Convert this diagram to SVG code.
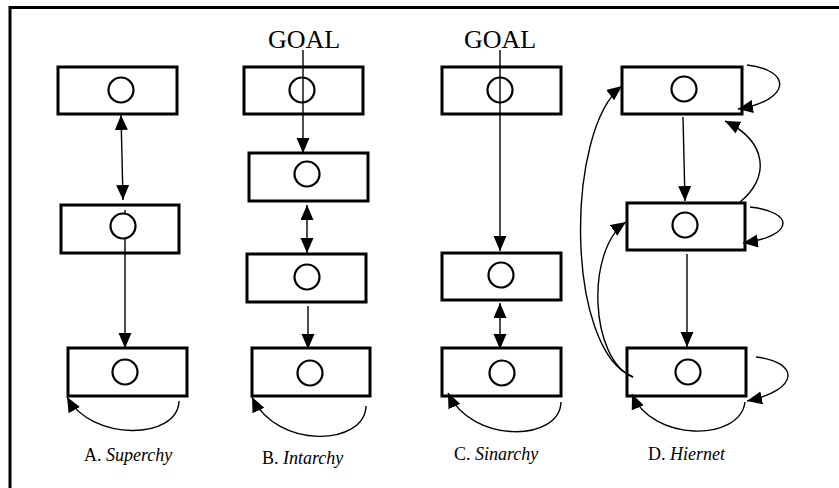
<svg xmlns="http://www.w3.org/2000/svg" width="839" height="488" viewBox="0 0 839 488">
  <style>
    .box { fill: none; stroke: #000; stroke-width: 3; }
    .dot { fill: none; stroke: #000; stroke-width: 2.2; }
    .dot.solid { fill: #fff; }
    .edge { fill: none; stroke: #000; stroke-width: 1.4; }
    .goal { font-family: "Liberation Serif", "Times New Roman", serif; font-size: 26px; fill: #000; }
    .cap { font-family: "Liberation Serif", "Times New Roman", serif; font-size: 18px; fill: #000; }
    .frame { stroke: #000; stroke-width: 3; }
  </style>
  <defs>
    <marker id="head" markerUnits="userSpaceOnUse" markerWidth="16" markerHeight="14" refX="15" refY="6.5" orient="auto-start-reverse">
      <path d="M0,0 L15,6.5 L0,13 z" fill="#000"/>
    </marker>
  </defs>

  <rect width="839" height="488" fill="#fff"/>

  <!-- outer frame (top and left edges) -->
  <line class="frame" x1="9" y1="7.5" x2="839" y2="7.5"/>
  <line class="frame" x1="10" y1="6" x2="10" y2="488"/>

  <!-- connectors -->
  <g id="connectors">
    <!-- A -->
    <line class="edge" x1="121" y1="115" x2="123" y2="200" marker-start="url(#head)" marker-end="url(#head)"/>
    <line class="edge" x1="125" y1="210" x2="125" y2="348" marker-end="url(#head)"/>
    <path class="edge" d="M179,401 C178,440 92,442 67,397" marker-end="url(#head)"/>
    <!-- B -->
    <line class="edge" x1="303" y1="50" x2="303" y2="153" marker-end="url(#head)"/>
    <line class="edge" x1="307" y1="205" x2="307" y2="253" marker-start="url(#head)" marker-end="url(#head)"/>
    <line class="edge" x1="308" y1="306" x2="308" y2="349" marker-end="url(#head)"/>
    <path class="edge" d="M366,406 C365,446 277,450 252,397" marker-end="url(#head)"/>
    <!-- C -->
    <line class="edge" x1="500" y1="50" x2="500" y2="251" marker-end="url(#head)"/>
    <line class="edge" x1="500" y1="303" x2="500" y2="349" marker-start="url(#head)" marker-end="url(#head)"/>
    <path class="edge" d="M561,402 C560,442 472,444 448,393" marker-end="url(#head)"/>
    <!-- D -->
    <path class="edge" d="M747,65 C792,70 792,100 738,109" marker-end="url(#head)"/>
    <line class="edge" x1="683" y1="117" x2="685" y2="201" marker-end="url(#head)"/>
    <path class="edge" d="M740,202 C770,178 768,142 725,121" marker-end="url(#head)"/>
    <path class="edge" d="M750,207 C795,212 795,236 743,243" marker-end="url(#head)"/>
    <line class="edge" x1="687" y1="254" x2="687" y2="347" marker-end="url(#head)"/>
    <path class="edge" d="M756,357 C800,362 800,390 747,401" marker-end="url(#head)"/>
    <path class="edge" d="M745,402 C740,442 652,442 632,394" marker-end="url(#head)"/>
    <path class="edge" d="M633,377 C565,350 565,130 622,86" marker-end="url(#head)"/>
    <path class="edge" d="M633,377 C590,360 585,250 626,222" marker-end="url(#head)"/>
  </g>

  <!-- A. Superchy -->
  <g id="a-top"><rect class="box" x="58" y="67" width="119" height="47"/><circle class="dot" cx="121" cy="90" r="12.5"/></g>
  <g id="a-mid"><rect class="box" x="61" y="205" width="118" height="48"/><circle class="dot solid" cx="123" cy="226" r="12.5"/></g>
  <g id="a-bot"><rect class="box" x="68" y="348" width="119" height="48"/><circle class="dot" cx="125" cy="372" r="12.5"/></g>
  <text class="cap" x="84" y="461">A. <tspan font-style="italic">Superchy</tspan></text>

  <!-- B. Intarchy -->
  <text class="goal" x="268" y="48">GOAL</text>
  <g id="b-1"><rect class="box" x="244" y="67" width="119" height="47"/><circle class="dot" cx="302" cy="90" r="12.5"/></g>
  <g id="b-2"><rect class="box" x="249" y="153" width="119" height="48"/><circle class="dot" cx="307" cy="174" r="12.5"/></g>
  <g id="b-3"><rect class="box" x="247" y="254" width="119" height="48"/><circle class="dot" cx="307" cy="277" r="12.5"/></g>
  <g id="b-4"><rect class="box" x="252" y="348" width="118" height="48"/><circle class="dot" cx="310" cy="373" r="12.5"/></g>
  <text class="cap" x="262" y="464">B. <tspan font-style="italic">Intarchy</tspan></text>

  <!-- C. Sinarchy -->
  <text class="goal" x="464" y="48">GOAL</text>
  <g id="c-1"><rect class="box" x="442" y="67" width="119" height="47"/><circle class="dot" cx="500" cy="90" r="12.5"/></g>
  <g id="c-2"><rect class="box" x="442" y="253" width="119" height="47"/><circle class="dot" cx="501" cy="275" r="12.5"/></g>
  <g id="c-3"><rect class="box" x="442" y="348" width="119" height="48"/><circle class="dot" cx="502" cy="373" r="12.5"/></g>
  <text class="cap" x="454" y="460">C. <tspan font-style="italic">Sinarchy</tspan></text>

  <!-- D. Hiernet -->
  <g id="d-top"><rect class="box" x="622" y="67" width="120" height="47"/><circle class="dot" cx="684" cy="89" r="12.5"/></g>
  <g id="d-mid"><rect class="box" x="627" y="203" width="118" height="47"/><circle class="dot" cx="685" cy="225" r="12.5"/></g>
  <g id="d-bot"><rect class="box" x="627" y="348" width="119" height="48"/><circle class="dot" cx="688" cy="372" r="12.5"/></g>
  <text class="cap" x="648" y="460">D. <tspan font-style="italic">Hiernet</tspan></text>
</svg>
